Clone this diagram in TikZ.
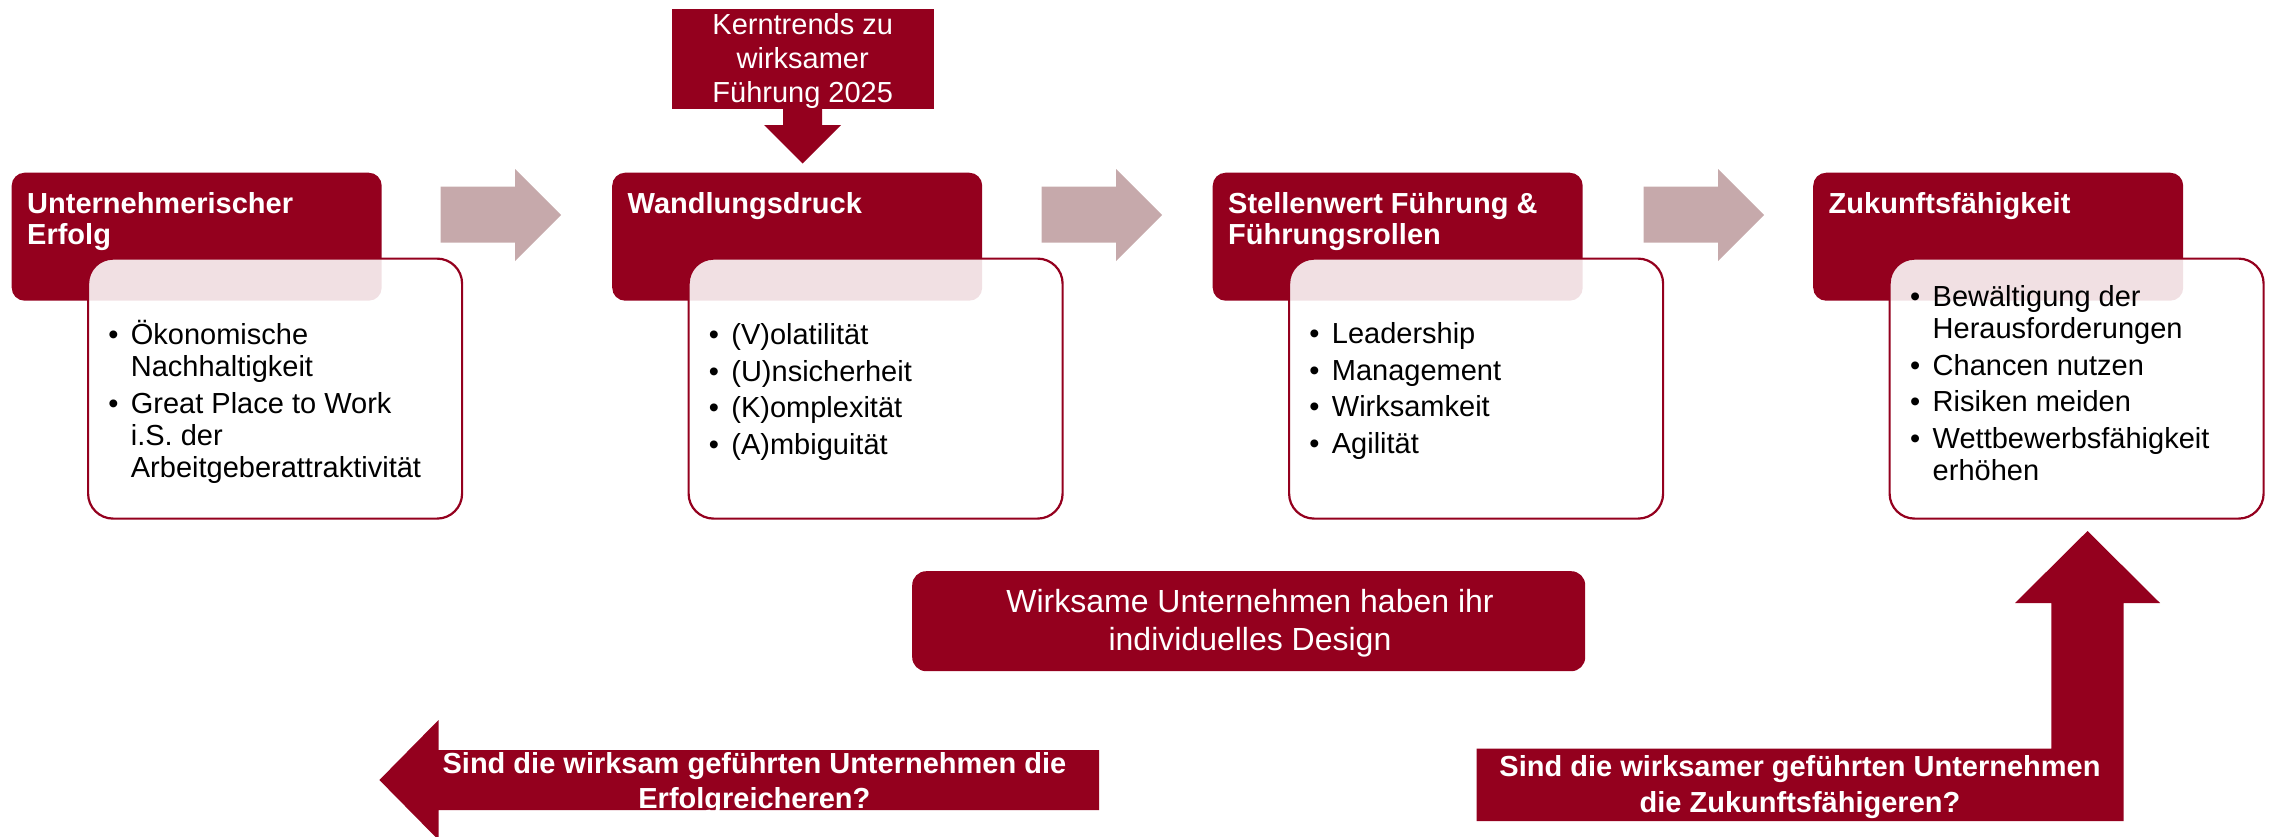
\documentclass[tikz,border=0pt]{standalone}
\usepackage{fontspec}
\setmainfont{Liberation Sans}
\definecolor{dkred}{RGB}{148,0,30}
\definecolor{flowpink}{RGB}{198,169,171}

\tikzset{
  hdrbox/.style={fill=dkred, rounded corners=13pt, minimum width=370pt,
    minimum height=128pt, anchor=north west, inner sep=0pt},
  cardbox/.style={draw=dkred, line width=2.2pt, fill=white, fill opacity=0.88,
    rounded corners=25pt, minimum width=374pt, minimum height=260pt,
    anchor=north west, inner sep=0pt},
  hdrtext/.style={anchor=base west, inner sep=0pt, text=white,
    font=\fontsize{29}{31.5}\selectfont\bfseries},
  listtext/.style={anchor=base west, inner sep=0pt,
    font=\fontsize{29}{32}\selectfont},
  flowarrow/.style={fill=flowpink},
  redshape/.style={fill=dkred},
  qtext/.style={anchor=base, inner sep=0pt, text=white,
    font=\fontsize{29}{35.5}\selectfont\bfseries},
}

% header lines and bullet lists
\newcommand\hdrlines[1]{\parbox[t]{360pt}{\raggedright #1}}
\newcommand\bulletlist[1]{\parbox[t]{345pt}{\raggedright\setlength\parskip{4.5pt}#1}}
\newcommand\bitem[1]{\par\hangindent=22.5pt\hangafter=1\noindent\makebox[22.5pt][l]{•}#1}

\begin{document}
\begin{tikzpicture}[x=1pt,y=-1pt]
\useasboundingbox (0,0) rectangle (2270,836);

% process stages: red header box with a translucent card on top
\foreach \i/\nm in {0/a,1/b,2/c,3/d}{
  \pgfmathsetmacro\dx{600.5*\i}
  \node[hdrbox] (hdr\nm) at (11.5+\dx,172.5) {};
  \node[cardbox] (card\nm) at (87+\dx,257.5) {};
}

% header texts
\node[hdrtext] (hta) at (27,213) {\hdrlines{Unternehmerischer\\Erfolg}};
\node[hdrtext] (htb) at (627.5,213) {\hdrlines{Wandlungsdruck}};
\node[hdrtext] (htc) at (1228,213) {\hdrlines{Stellenwert Führung \&\\Führungsrollen}};
\node[hdrtext] (htd) at (1828.5,213) {\hdrlines{Zukunftsfähigkeit}};

% bullet lists
\node[listtext] (lsa) at (108.2,344.5) {\bulletlist{%
  \bitem{Ökonomische\newline Nachhaltigkeit}%
  \bitem{Great Place to Work\newline i.S. der\newline Arbeitgeberattraktivität}}};
\node[listtext] (lsb) at (708.7,344.5) {\bulletlist{%
  \bitem{(V)olatilität}\bitem{(U)nsicherheit}\bitem{(K)omplexität}\bitem{(A)mbiguität}}};
\node[listtext] (lsc) at (1309.2,343.5) {\bulletlist{%
  \bitem{Leadership}\bitem{Management}\bitem{Wirksamkeit}\bitem{Agilität}}};
\node[listtext] (lsd) at (1910,306.5) {\bulletlist{%
  \bitem{Bewältigung der\newline Herausforderungen}\bitem{Chancen nutzen}%
  \bitem{Risiken meiden}\bitem{Wettbewerbsfähigkeit\newline erhöhen}}};

% block arrows between the stages
\foreach \x in {440.5,1041.5,1643.5}{
  \fill[flowarrow] (\x,186.7) -- (\x+74.5,186.7) -- (\x+74.5,169) -- (\x+120.5,215)
    -- (\x+74.5,261) -- (\x+74.5,242.7) -- (\x,242.7) -- cycle;
}

% key trends box feeding into the second stage
\node[redshape, minimum width=262.5pt, minimum height=100pt, anchor=north west,
  inner sep=0pt] (trend) at (671.5,9) {};
\node[anchor=base, inner sep=0pt, text=white, font=\fontsize{29}{34.2}\selectfont]
  (trendtxt) at (802.7,34.3) {\parbox[t]{250pt}{\centering Kerntrends zu\\wirksamer\\Führung 2025}};
\fill[redshape] (783,109) -- (822,109) -- (822,125) -- (841,125) -- (802.5,163.5)
  -- (764,125) -- (783,125) -- cycle;

% central statement
\node[redshape, rounded corners=14pt, minimum width=673pt, minimum height=100pt,
  anchor=north west, inner sep=0pt] (design) at (912,571) {};
\node[anchor=base, inner sep=0pt, text=white, font=\fontsize{32}{38}\selectfont]
  (designtxt) at (1250,612.7) {\parbox[t]{640pt}{\centering Wirksame Unternehmen haben ihr\\individuelles Design}};

% question arrow pointing left
\fill[redshape] (379.4,780) -- (438.5,720) -- (438.5,750) -- (1099,750) -- (1099,810)
  -- (438.5,810) -- (438.5,840) -- cycle;
\node[qtext] (qleft) at (754.4,773) {\parbox[t]{700pt}{\centering Sind die wirksam geführten Unternehmen die\\Erfolgreicheren?}};

% question arrow bending up to the last stage
\fill[redshape] (1476.5,748.7) -- (2051.4,748.7) -- (2051.4,603) -- (2015,603)
  -- (2087.5,531) -- (2160,603) -- (2123.7,603) -- (2123.7,821) -- (1476.5,821) -- cycle;
\node[qtext] (qright) at (1800,776.7) {\parbox[t]{700pt}{\centering Sind die wirksamer geführten Unternehmen\\[0.5pt]die Zukunftsfähigeren?}};
\end{tikzpicture}
\end{document}
